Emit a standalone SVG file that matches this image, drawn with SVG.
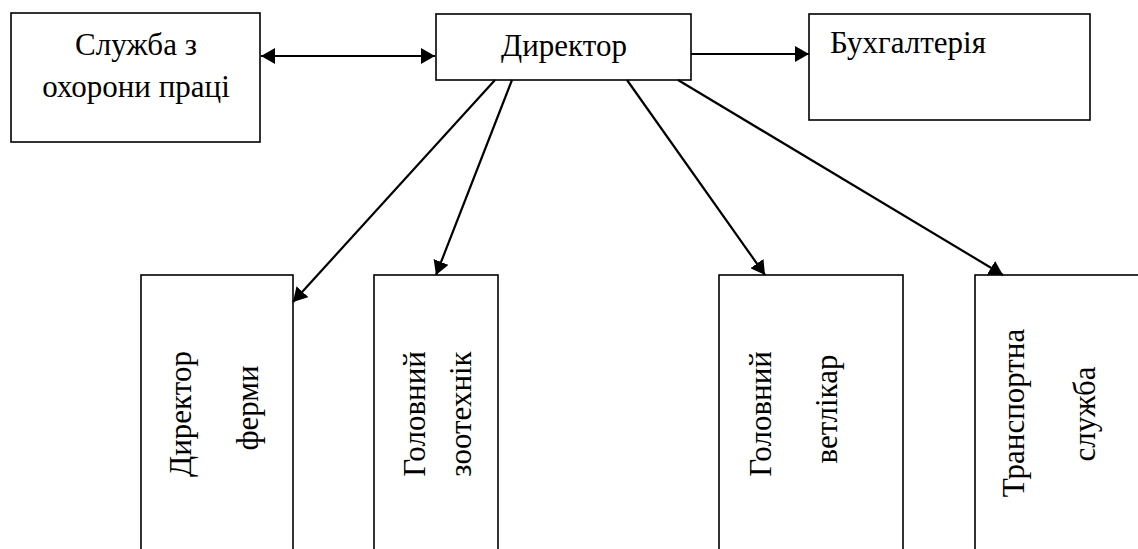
<svg xmlns="http://www.w3.org/2000/svg" width="1138" height="549" viewBox="0 0 1138 549">
<style>
.box{fill:#fff;stroke:#000;stroke-width:1.6}
.t{font-family:'Liberation Serif','DejaVu Serif',serif;font-size:31px;fill:#000}
.c{stroke:#000;stroke-width:2.2;fill:none}
</style>
<defs>
<marker id="ah" viewBox="0 0 14 16" refX="14" refY="8" markerWidth="14" markerHeight="16" markerUnits="userSpaceOnUse" orient="auto-start-reverse">
<path d="M0,0 L14,8 L0,16 Z" fill="#000"/>
</marker>
</defs>
<rect width="1138" height="549" fill="#fff"/>
<g id="node-safety">
<rect class="box" x="11" y="13" width="249" height="129"/>
<text class="t" x="136" y="55" text-anchor="middle">Служба з</text>
<text class="t" x="136" y="97" text-anchor="middle">охорони праці</text>
</g>
<g id="node-director">
<rect class="box" x="436" y="14" width="255" height="66"/>
<text class="t" x="564" y="56" text-anchor="middle">Директор</text>
</g>
<g id="node-accounting">
<rect class="box" x="809" y="14" width="281" height="106"/>
<text class="t" x="830" y="53">Бухгалтерія</text>
</g>
<g id="node-farm">
<rect class="box" x="141" y="275" width="152" height="290"/>
<text class="t" transform="translate(191,414) rotate(-90)" text-anchor="middle">Директор</text>
<text class="t" transform="translate(258,408) rotate(-90)" text-anchor="middle">ферми</text>
</g>
<g id="node-zootech">
<rect class="box" x="374" y="275" width="124" height="290"/>
<text class="t" transform="translate(425,414) rotate(-90)" text-anchor="middle">Головний</text>
<text class="t" transform="translate(471,414) rotate(-90)" text-anchor="middle">зоотехнік</text>
</g>
<g id="node-vet">
<rect class="box" x="719" y="275" width="184" height="290"/>
<text class="t" transform="translate(771,414) rotate(-90)" text-anchor="middle">Головний</text>
<text class="t" transform="translate(837,409) rotate(-90)" text-anchor="middle">ветлікар</text>
</g>
<g id="node-transport">
<rect class="box" x="975" y="275" width="190" height="290"/>
<text class="t" transform="translate(1024,413) rotate(-90)" text-anchor="middle">Транспортна</text>
<text class="t" transform="translate(1095,414) rotate(-90)" text-anchor="middle">служба</text>
</g>
<g id="connectors">
<line class="c" x1="261" y1="56" x2="435" y2="56" marker-start="url(#ah)" marker-end="url(#ah)"/>
<line class="c" x1="691" y1="54" x2="809" y2="54" marker-end="url(#ah)"/>
<line class="c" x1="495" y1="80" x2="293" y2="302" marker-end="url(#ah)"/>
<line class="c" x1="512" y1="80" x2="436" y2="275" marker-end="url(#ah)"/>
<line class="c" x1="627" y1="80" x2="765" y2="275" marker-end="url(#ah)"/>
<line class="c" x1="678" y1="80" x2="1003" y2="275" marker-end="url(#ah)"/>
</g>
</svg>
